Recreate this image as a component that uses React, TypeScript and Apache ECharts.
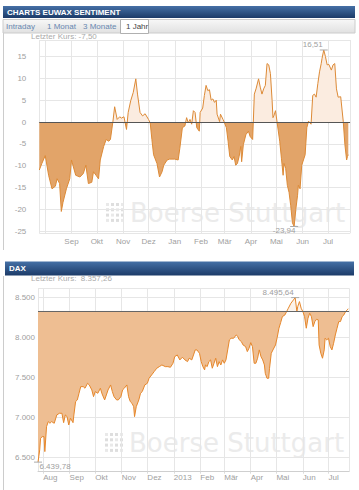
import React, { useEffect, useRef } from 'react';
import * as echarts from 'echarts';

const DAY = 86400000;

// ---------- CHARTS EUWAX SENTIMENT (1 Jahr) ----------
const sentimentStart = [2012, 6, 25];
const sentimentEnd = [2013, 6, 27];
const sentimentDays = [0, 3, 7, 9, 11, 15, 19, 21, 24, 26, 28, 32, 36, 38, 43, 48, 52, 55, 58, 62, 64, 67, 70, 72, 76, 79, 82, 84, 87, 89, 92, 95, 97, 100, 103, 105, 108, 111, 114, 116, 119, 122, 125, 129, 131, 133, 135, 139, 142, 145, 147, 151, 154, 160, 164, 166, 169, 172, 174, 176, 178, 180, 182, 184, 186, 189, 190, 193, 195, 197, 199, 201, 203, 205, 207, 209, 210, 213, 214, 217, 218, 221, 223, 225, 228, 230, 232, 234, 236, 238, 239, 241, 244, 247, 249, 252, 254, 256, 259, 261, 263, 265, 267, 269, 271, 273, 275, 276, 277, 279, 281, 284, 286, 288, 289, 291, 293, 295, 297, 299, 301, 303, 305, 306, 308, 310, 312, 314, 316, 318, 321, 323, 325, 327, 329, 331, 333, 334, 336, 338, 340, 342, 345, 347, 349, 351, 353, 356, 359, 361, 363, 364, 365];
const sentimentValues = [-11.0, -9.5, -7.7, -9.9, -12.2, -15.3, -14.7, -13.0, -14.1, -20.5, -18.4, -15.3, -13.0, -8.7, -12.2, -12.6, -11.8, -9.9, -14.1, -13.8, -11.4, -12.2, -13.0, -8.7, -5.6, -4.0, -4.4, -4.0, 0.2, 3.5, 0.6, 1.2, 0.9, 1.2, -1.7, 2.2, 4.9, 6.8, 9.9, 6.4, 2.2, 1.4, 1.9, 0.6, -0.2, -4.0, -7.5, -9.5, -12.6, -11.4, -9.9, -8.7, -8.5, -8.5, -8.7, -6.0, -1.3, -0.9, 1.0, -0.2, 0.6, -0.5, 2.6, 2.2, -1.3, -2.1, 2.2, 3.2, 6.1, 8.4, 7.2, 7.4, 5.0, 5.3, 4.5, 5.0, 1.8, 0.1, 1.8, 0.6, 0.2, -1.3, -4.4, -7.9, -8.7, -7.9, -9.9, -9.5, -7.9, -5.6, -9.1, -5.2, -2.9, -2.1, -3.3, -4.0, 6.4, 7.6, 9.9, 8.0, 6.4, 7.6, 8.4, 13.4, 13.1, 11.1, 4.9, 1.0, 1.4, 2.6, -0.2, -4.4, -8.3, -12.2, -9.5, -10.6, -14.5, -16.1, -19.2, -23.1, -23.94, -20.0, -16.9, -14.5, -15.3, -9.9, -8.7, -7.5, -1.3, 0.2, -0.5, 6.1, 6.4, 5.7, 8.8, 11.5, 13.4, 14.6, 16.51, 15.0, 13.1, 13.2, 11.9, 13.1, 13.4, 7.6, 5.7, 5.8, 0.2, -5.2, -8.7, -7.9, -7.5];
const sentimentYMin = -25.5;
const sentimentYMax = 18.8;
const sentimentYStep = 5;
const sentimentBase = 0;
const sentimentMonthLabels = ['Jan', 'Feb', 'Mär', 'Apr', 'Mai', 'Jun', 'Jul', '', 'Sep', 'Okt', 'Nov', 'Dez'];
const sentimentTabs = ['Intraday', '1 Monat', '3 Monate', '1 Jahr'];

// ---------- DAX ----------
const daxStart = [2012, 6, 26];
const daxEnd = [2013, 6, 25];
const daxDays = [0, 2, 3, 5, 7, 8, 10, 12, 14, 16, 19, 22, 25, 28, 30, 32, 34, 36, 38, 41, 42, 44, 46, 48, 50, 53, 55, 58, 60, 63, 65, 67, 70, 73, 75, 78, 80, 82, 85, 87, 89, 92, 94, 97, 99, 101, 104, 106, 108, 110, 112, 113, 115, 118, 120, 122, 125, 128, 130, 133, 136, 139, 142, 145, 149, 152, 155, 158, 160, 163, 166, 169, 172, 175, 177, 180, 182, 184, 186, 189, 191, 193, 195, 196, 198, 200, 202, 204, 206, 208, 210, 212, 214, 216, 218, 220, 222, 224, 226, 229, 232, 234, 235, 238, 240, 243, 245, 247, 249, 251, 253, 255, 257, 259, 261, 263, 265, 266, 268, 270, 271, 273, 275, 278, 280, 282, 284, 286, 289, 291, 293, 296, 299, 301, 303, 304, 306, 308, 310, 312, 314, 316, 318, 320, 322, 324, 326, 328, 329, 331, 333, 335, 336, 338, 340, 342, 344, 346, 348, 350, 352, 354, 356, 358, 360, 362, 363];
const daxValues = [6439.78, 6592, 6738, 6758, 6758, 6571, 6883, 6946, 6925, 6946, 6925, 7029, 7050, 7050, 6933, 7029, 7008, 6904, 6988, 6933, 7029, 7196, 7217, 7300, 7383, 7383, 7363, 7425, 7404, 7342, 7258, 7321, 7300, 7363, 7292, 7217, 7279, 7342, 7404, 7321, 7258, 7217, 7217, 7258, 7342, 7363, 7404, 7258, 7196, 7175, 7133, 7008, 7133, 7217, 7300, 7321, 7404, 7425, 7488, 7529, 7571, 7613, 7633, 7654, 7633, 7633, 7625, 7675, 7758, 7779, 7717, 7750, 7717, 7696, 7738, 7717, 7779, 7842, 7842, 7800, 7696, 7633, 7592, 7654, 7633, 7696, 7717, 7613, 7675, 7738, 7633, 7696, 7654, 7717, 7675, 7717, 7842, 7967, 7988, 7988, 8029, 8008, 7975, 7946, 7904, 7883, 7821, 7863, 7933, 7883, 7675, 7675, 7738, 7842, 7758, 7717, 7654, 7550, 7488, 7488, 7613, 7800, 7842, 7904, 8000, 8113, 8183, 8258, 8279, 8321, 8363, 8425, 8467, 8495.64, 8321, 8383, 8446, 8363, 8321, 8258, 8113, 8238, 8300, 8258, 8133, 8196, 8225, 8217, 7904, 7800, 7738, 7842, 7988, 7967, 7988, 7883, 7842, 7925, 8029, 8113, 8196, 8196, 8258, 8279, 8321, 8342, 8357.26];
const daxYMin = 6320;
const daxYMax = 8612;
const daxYStep = 500;
const daxReference = 8330;
const daxMonthLabels = ['2013', 'Feb', 'Mär', 'Apr', 'Mai', 'Jun', 'Jul', 'Aug', 'Sep', 'Okt', 'Nov', 'Dez'];

const FONT = '"Liberation Sans", Arial, sans-serif';

const ts = (d: number[]) => new Date(d[0], d[1], d[2]).getTime();

const fmtDE = (v: number, dec: number) => {
  const s = Math.abs(v).toFixed(dec);
  const parts = s.split('.');
  const intG = parts[0].replace(/\B(?=(\d{3})+(?!\d))/g, '.');
  return (v < 0 ? '-' : '') + intG + (parts[1] ? ',' + parts[1] : '');
};

const buildSeriesData = (start: number[], days: number[], values: number[]) =>
  days.map((d, i) => [ts(start) + d * DAY, values[i]]);

const timeAxis = (grid: number, start: number[], end: number[], labels: string[], align: string) => ({
  type: 'time',
  gridIndex: grid,
  min: ts(start),
  max: ts(end),
  splitNumber: 12,
  minInterval: 28 * DAY,
  maxInterval: 31 * DAY,
  axisLine: { show: true, lineStyle: { color: '#cfcfcf', width: 1 } },
  axisTick: { show: true, length: 2, lineStyle: { color: '#dcdcdc' } },
  splitLine: { show: true, lineStyle: { color: '#e6e6e6', width: 1 } },
  axisLabel: {
    fontSize: 8,
    fontFamily: FONT,
    color: '#a0a0a0',
    margin: grid === 0 ? 4 : 2,
    align,
    formatter: (v: number) => {
      const d = new Date(v);
      if (d.getDate() !== 1) return '';
      return labels[d.getMonth()];
    },
  },
});

const valueAxis = (grid: number, min: number, max: number, split: number, step: number, fmt: (v: number) => string, margin: number) => ({
  type: 'value',
  gridIndex: grid,
  min,
  max,
  splitNumber: split,
  axisLine: { show: false },
  axisTick: { show: false },
  splitLine: { show: true, lineStyle: { color: '#e6e6e6', width: 1 } },
  axisLabel: {
    fontSize: 8,
    fontFamily: FONT,
    color: '#a0a0a0',
    margin,
    formatter: (v: number) => (Math.abs(v / step - Math.round(v / step)) > 1e-6 ? '' : fmt(v)),
  },
});

const header = (x: number, y: number, w: number, h: number, text: string) => [
  {
    type: 'rect',
    z: 10,
    shape: { x, y, width: w, height: h },
    style: {
      fill: new echarts.graphic.LinearGradient(0, 0, 0, 1, [
        { offset: 0, color: '#4570a6' },
        { offset: 1, color: '#1c3b68' },
      ]),
    },
  },
  {
    type: 'text',
    z: 11,
    x: x + 4,
    y: y + h / 2,
    style: { text, fill: '#ffffff', font: `bold 8px ${FONT}`, verticalAlign: 'middle' },
  },
];

const watermark = (x: number, y: number) => {
  const dots: any[] = [];
  for (let r = 0; r < 4; r++) {
    for (let c = 0; c < 4; c++) {
      dots.push({
        type: 'rect',
        shape: { x: x + c * 5, y: y + r * 5.3, width: 3, height: 3 },
        style: { fill: (r + c) % 3 === 0 ? '#e9e9e9' : '#dedede' },
      });
    }
  }
  return {
    type: 'group',
    z: 1,
    silent: true,
    children: [
      ...dots,
      {
        type: 'text',
        x: x + 24,
        y: y + 10,
        style: {
          text: 'Boerse Stuttgart',
          fill: '#ebebeb',
          font: '26px "DejaVu Sans", sans-serif',
          verticalAlign: 'middle',
        },
      },
    ],
  };
};

export default function App() {
  const ref = useRef<HTMLDivElement>(null);

  useEffect(() => {
    if (!ref.current) return;
    const chart = echarts.init(ref.current, undefined, { renderer: 'svg' });

    const sentLast = sentimentValues[sentimentValues.length - 1];
    const daxLast = daxValues[daxValues.length - 1];

    const tabX = [6, 47, 83, 126];
    const tabGraphics: any[] = [
      {
        type: 'rect',
        z: 10,
        shape: { x: 3, y: 19.5, width: 352, height: 13.5 },
        style: {
          fill: new echarts.graphic.LinearGradient(0, 0, 0, 1, [
            { offset: 0, color: '#f7f7f7' },
            { offset: 1, color: '#e1e1e1' },
          ]),
          stroke: '#cccccc',
          lineWidth: 1,
        },
      },
      {
        type: 'rect',
        z: 11,
        shape: { x: 120.5, y: 19.5, width: 28, height: 14 },
        style: { fill: '#ffffff', stroke: '#b0b0b0', lineWidth: 1 },
      },
      ...sentimentTabs.map((t, i) => ({
        type: 'text',
        z: 12,
        x: tabX[i],
        y: 26.5,
        style: {
          text: t,
          fill: i === sentimentTabs.length - 1 ? '#444444' : '#6787b0',
          font: `8px ${FONT}`,
          verticalAlign: 'middle',
        },
      })),
    ];

    chart.setOption({
      animation: false,
      title: [
        {
          text: `Letzter Kurs: ${fmtDE(sentLast, 2)}`,
          left: 31,
          top: 32,
          padding: 0,
          textStyle: { fontSize: 8, fontFamily: FONT, color: '#aaaaaa', fontWeight: 'normal' },
        },
        {
          text: `Letzter Kurs:  ${fmtDE(daxLast, 2)}`,
          left: 31,
          top: 274,
          padding: 0,
          textStyle: { fontSize: 8, fontFamily: FONT, color: '#aaaaaa', fontWeight: 'normal' },
        },
      ],
      grid: [
        { left: 39.3, right: 9, top: 40, height: 193.3 },
        { left: 38, right: 10, top: 288.3, height: 183.4 },
      ],
      xAxis: [
        timeAxis(0, sentimentStart, sentimentEnd, sentimentMonthLabels, 'center'),
        timeAxis(1, daxStart, daxEnd, daxMonthLabels, 'left'),
      ],
      yAxis: [
        valueAxis(0, sentimentYMin, sentimentYMax, 9, sentimentYStep, (v) => String(v), 13),
        valueAxis(1, daxYMin, daxYMax, 5, daxYStep, (v) => fmtDE(v, 0), 3),
      ],
      visualMap: [
        {
          type: 'piecewise',
          show: false,
          seriesIndex: 0,
          dimension: 1,
          pieces: [
            { min: sentimentYMin - 100, max: sentimentBase, color: '#e2a469' },
            { min: sentimentBase, max: sentimentYMax + 100, color: '#fbece0' },
          ],
        },
        {
          type: 'piecewise',
          show: false,
          seriesIndex: 1,
          dimension: 1,
          pieces: [
            { min: daxYMin - 10000, max: daxReference, color: '#eebe92' },
            { min: daxReference, max: daxYMax + 10000, color: '#fcf2e9' },
          ],
        },
      ],
      series: [
        {
          type: 'line',
          xAxisIndex: 0,
          yAxisIndex: 0,
          data: buildSeriesData(sentimentStart, sentimentDays, sentimentValues),
          showSymbol: false,
          symbol: 'none',
          lineStyle: { color: '#dd8a36', width: 1 },
          areaStyle: { opacity: 1, origin: sentimentBase },
          markLine: {
            silent: true,
            symbol: 'none',
            label: { show: false },
            lineStyle: { color: '#555555', width: 1, type: 'solid' },
            data: [{ yAxis: sentimentBase }],
          },
          markPoint: {
            symbol: 'rect',
            symbolSize: [8, 1],
            itemStyle: { color: '#aaaaaa' },
            label: {
              fontSize: 8,
              fontFamily: FONT,
              color: '#a0a0a0',
              formatter: (p: any) => fmtDE(p.value, 2),
            },
            data: [
              { type: 'max', label: { position: 'top', distance: 1, offset: [-11, 0] } },
              { type: 'min', label: { position: 'bottom', distance: 0, offset: [-10, 0] } },
            ],
          },
          z: 3,
        },
        {
          type: 'line',
          xAxisIndex: 1,
          yAxisIndex: 1,
          data: buildSeriesData(daxStart, daxDays, daxValues),
          showSymbol: false,
          symbol: 'none',
          lineStyle: { color: '#e6872b', width: 1 },
          areaStyle: { opacity: 1, origin: daxReference },
          markLine: {
            silent: true,
            symbol: 'none',
            label: { show: false },
            lineStyle: { color: '#666666', width: 1, type: 'solid' },
            data: [{ yAxis: daxReference }],
          },
          markPoint: {
            symbol: 'rect',
            symbolSize: [8, 1],
            itemStyle: { color: '#aaaaaa' },
            label: {
              fontSize: 8,
              fontFamily: FONT,
              color: '#a0a0a0',
              formatter: (p: any) => fmtDE(p.value, 2),
            },
            data: [
              { type: 'max', label: { position: 'top', distance: 1, offset: [-17, 0] } },
              { type: 'min', label: { position: 'bottom', distance: 0, offset: [17, 0] } },
            ],
          },
          z: 3,
        },
      ],
      graphic: [
        ...header(3, 6, 352, 12, 'CHARTS EUWAX SENTIMENT'),
        ...tabGraphics,
        { type: 'line', z: 9, shape: { x1: 3.5, y1: 33, x2: 3.5, y2: 250 }, style: { stroke: '#cccccc', lineWidth: 1 } },
        ...header(5, 261.5, 349, 14, 'DAX'),
        { type: 'line', z: 9, shape: { x1: 3.5, y1: 276, x2: 3.5, y2: 490 }, style: { stroke: '#cccccc', lineWidth: 1 } },
        watermark(106, 203),
        watermark(105, 433),
      ],
    });

    return () => chart.dispose();
  }, []);

  return (
    <div
      ref={ref}
      style={{ position: 'fixed', left: 0, top: 0, width: 359, height: 490, background: '#ffffff' }}
    />
  );
}
